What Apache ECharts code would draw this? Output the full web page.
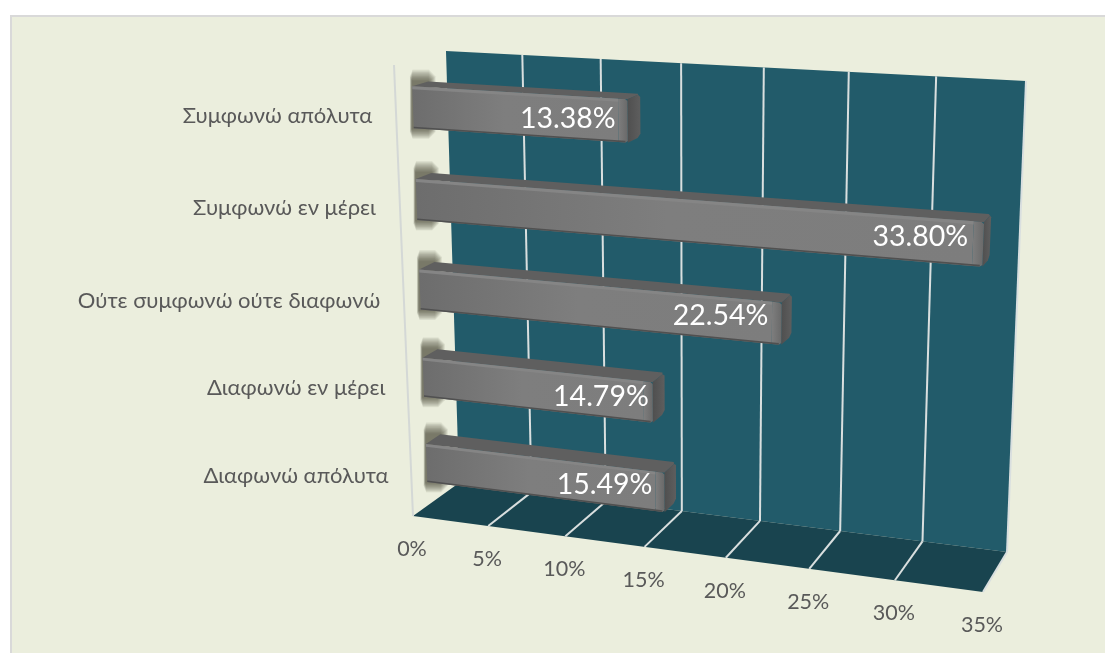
<!DOCTYPE html>
<html><head><meta charset="utf-8">
<style>html,body{margin:0;padding:0;background:#fff}#c{width:1105px;height:653px}</style>
<script src="https://cdn.jsdelivr.net/npm/echarts@6/dist/echarts.min.js"></script>
</head><body><div id="c"></div>
<script>
const categories = ['Συμφωνώ απόλυτα ', 'Συμφωνώ εν μέρει ', 'Ούτε συμφωνώ ούτε διαφωνώ ', 'Διαφωνώ εν μέρει', 'Διαφωνώ απόλυτα'];
const values = [13.38, 33.80, 22.54, 14.79, 15.49];
const tickValues = [0, 5, 10, 15, 20, 25, 30, 35];

// layout of the projected box
const G = {left: 413, top: 65, width: 570, height: 451};
const FRONT = [[413,516],[983,592],[1005,100],[394,65]];
const BACK  = [[459,483],[1007,552],[1026,81],[446,51]];
const BAR_D = [0.33, 0.64];
const labelNudge = [[-50,3],[-50,1],[-49,3],[-53,1],[-53,2]];
const valueNudge = [[0,0],[-3,-6],[-1,-6],[8,-4],[0,-6]];
const FONT = 'Lato, "Noto Sans", sans-serif';
const TEXT = '#595959';
const SHADOW_SPREAD = [15,14,13,12,11,10,9,8,7,6,5,4,3,2,1];

function quad(q){
  const [p0,p1,p2,p3]=q;
  const dx1=p1[0]-p2[0],dx2=p3[0]-p2[0],sx=p0[0]-p1[0]+p2[0]-p3[0];
  const dy1=p1[1]-p2[1],dy2=p3[1]-p2[1],sy=p0[1]-p1[1]+p2[1]-p3[1];
  const den=dx1*dy2-dx2*dy1;
  const g=(sx*dy2-dx2*sy)/den,h=(dx1*sy-sx*dy1)/den;
  const a=p1[0]-p0[0]+g*p1[0],b=p3[0]-p0[0]+h*p3[0],c=p0[0];
  const d=p1[1]-p0[1]+g*p1[1],e=p3[1]-p0[1]+h*p3[1],f=p0[1];
  return (u,v)=>{const w=g*u+h*v+1;return [(a*u+b*v+c)/w,(d*u+e*v+f)/w];};
}
const fm=quad(FRONT),bm=quad(BACK);
function P(u,h,d){const a=fm(u,h),b=bm(u,h);return [a[0]+(b[0]-a[0])*d,a[1]+(b[1]-a[1])*d];}
const uOf=(api,v,c)=>(api.coord([v,c])[0]-G.left)/G.width;
const hOf=(api,v,c)=>1-(api.coord([v,c])[1]-G.top)/G.height;
const poly=(pts,fill)=>({type:'polygon',silent:true,shape:{points:pts},style:{fill:fill}});
const line=(a,b,col,w)=>({type:'line',silent:true,shape:{x1:a[0],y1:a[1],x2:b[0],y2:b[1]},style:{stroke:col,lineWidth:w}});
const txt=(t,x,y,size,col,align)=>({type:'text',silent:true,style:{text:t,x:x,y:y,fill:col,fontSize:size,fontFamily:FONT,align:align,verticalAlign:'middle'}});
const lg=(a,b,c)=>({type:'linear',x:0,y:0,x2:1,y2:0,colorStops:[{offset:0,color:a},{offset:c?0.45:1,color:c||b}].concat(c?[{offset:1,color:b}]:[])});

const axisMin=tickValues[0],axisMax=tickValues[tickValues.length-1];

const option={
  animation:false,
  graphic:[{type:'rect',silent:true,z:-10,shape:{x:11,y:16,width:1120,height:660},style:{fill:'#ebeedd',stroke:'#d9d9d9',lineWidth:2}}],
  grid:{left:G.left,top:G.top,width:G.width,height:G.height,show:false},
  xAxis:{type:'value',min:axisMin,max:axisMax,interval:5,show:false},
  yAxis:{type:'category',data:categories,inverse:true,show:false},
  series:[
    {type:'custom',name:'shadow',coordinateSystem:'cartesian2d',z:1,data:categories.map((c,i)=>[0,i]),
     renderItem(p,api){
       const c=api.value(1),h=hOf(api,0,c),bh=api.size([0,1])[1]/G.height*0.45/2;
       const A=P(0,h+bh,BAR_D[0]),B=P(0,h+bh,BAR_D[1]),D=P(0,h-bh,BAR_D[0]);
       const x0=A[0],x1=B[0],y0=B[1],y1=D[1];
       return {type:'group',children:SHADOW_SPREAD.map(k=>{
         const l=x0-0.15*k,r=x1+0.5*k,tp=y0-0.8*k,bt=y1+0.7*k,cut=0.45*k;
         return poly([[l,tp+cut],[l+cut*0.4,tp],[r-cut,tp],[r,tp+cut],[r,bt-cut],[r-cut,bt],[l+cut*0.4,bt],[l,bt-cut]],'rgba(50,52,34,0.06)');
       })};
     }},
    {type:'custom',name:'planes',coordinateSystem:'cartesian2d',z:2,data:[[axisMin,axisMax]],
     renderItem(p,api){
       const u0=uOf(api,api.value(0),0),u1=uOf(api,api.value(1),0);
       return {type:'group',children:[
         poly([P(u0,0,1),P(u1,0,1),P(u1,1,1),P(u0,1,1)],'#225b6a'),
         poly([P(u0,0,0),P(u1,0,0),P(u1,0,1),P(u0,0,1)],'#19444f'),
         line(P(u0,0,0),P(u0,1,0),'#d4d8d6',2)
       ]};
     }},
    {type:'custom',name:'ticks',coordinateSystem:'cartesian2d',z:3,data:tickValues.map(v=>[v]),
     renderItem(p,api){
       const v=api.value(0),u=uOf(api,v,0);
       const a=P(u,0,0),b=P(u,0,1),t=P(u,1,1);
       const ch=[txt(v+'%',a[0]-1,a[1]+33,21.5,TEXT,'center')];
       if(v>0){ch.push(line(a,b,'#d9dfdf',2),line(b,t,'#d9dfdf',2));}
       return {type:'group',children:ch};
     }},
    {type:'custom',name:'bars',coordinateSystem:'cartesian2d',z:4,
     data:values.map((v,i)=>[v,i]),
     renderItem(p,api){
       const v=api.value(0),c=api.value(1);
       const u=uOf(api,v,c),h=hOf(api,v,c),bh=api.size([0,1])[1]/G.height*0.45/2;
       const d0=BAR_D[0],d1=BAR_D[1];
       const t=h+bh,b=h-bh,eu=0.016,ch=bh*0.14,cu=0.004;
       const lab=P(u,h,d0),left=P(0,h,d0),n=labelNudge[c],vn=valueNudge[c];
       return {type:'group',children:[
         poly([P(0,t,d0),P(u,t,d0),P(u,t,d1-0.05),P(u-cu,t,d1),P(0,t,d1)],'#5f5f5f'),
         poly([P(u,t,d0),P(u,t,d1-0.05),P(u,t-ch,d1),P(u,b+ch,d1),P(u,b,d1-0.07),P(u,b,d0)],lg('#4f4f4f','#5e5e5e')),
         poly([P(0,t,d0),P(u-eu,t,d0),P(u-eu,b,d0),P(0,b,d0)],lg('#6d6d6d','#7d7d7d','#7e7e7e')),
         poly([P(0,t,d0),P(u-eu,t,d0),P(u-eu,t-bh*0.14,d0),P(0,t-bh*0.14,d0)],'#858585'),
         poly([P(u-eu,t,d0),P(u-cu,t,d0),P(u,t-ch*0.6,d0),P(u,b+ch*0.6,d0),P(u-cu,b,d0),P(u-eu,b,d0)],lg('#7e7e7e','#696969')),
         poly([P(0,b+bh*0.08,d0),P(u-cu,b+bh*0.08,d0),P(u-cu,b,d0),P(0,b,d0)],'#505050'),
         txt(v.toFixed(2)+'%',lab[0]-12+vn[0],lab[1]-2+vn[1],28.5,'#ffffff','right'),
         txt(categories[c],left[0]+n[0]+15,P(0,h,0)[1]+n[1],22,TEXT,'right')
       ]};
     }}
  ]
};
echarts.init(document.getElementById('c'),null,{renderer:'canvas'}).setOption(option);
</script></body></html>
